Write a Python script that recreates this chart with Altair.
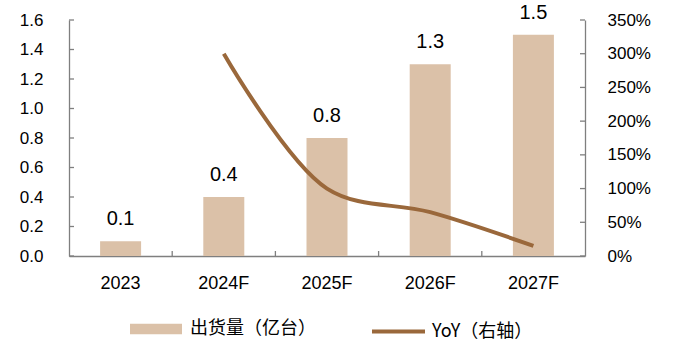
import altair as alt
import pandas as pd

years = ["2023", "2024F", "2025F", "2026F", "2027F"]
shipments = [0.1, 0.4, 0.8, 1.3, 1.5]
yoy_years = ["2024F", "2025F", "2026F", "2027F"]
yoy = [3.0, 1.0, 0.65, 0.15]
left_ticks = [0, 0.2, 0.4, 0.6, 0.8, 1.0, 1.2, 1.4, 1.6]
right_ticks = [0, 0.5, 1.0, 1.5, 2.0, 2.5, 3.0, 3.5]
x_boundaries = ["2024F", "2025F", "2026F", "2027F"]
bar_name = "出货量（亿台）"
line_name = "YoY（右轴）"

BAR_COLOR = "#DBC1A8"
LINE_COLOR = "#9A683B"
AXIS_COLOR = "#7f7f7f"
FONT = "Liberation Sans"
CJK = "Noto Sans CJK SC"
W, H = 516, 236

bar_df = pd.DataFrame({"year": years, "value": shipments, "s": bar_name})
line_df = pd.DataFrame({"year": yoy_years, "yoy": yoy, "s": line_name})
lt_df = pd.DataFrame({"v": left_ticks})
rt_df = pd.DataFrame({"v": right_ticks})
xb_df = pd.DataFrame({"year": x_boundaries})

xscale = alt.Scale(domain=years, paddingInner=0, paddingOuter=0)
lscale = alt.Scale(domain=[0, 1.6], nice=False)
rscale = alt.Scale(domain=[0, 3.5], nice=False)


def xaxis():
    return alt.Axis(labelAngle=0, labelPadding=18, bandPosition=0.5, title=None,
                    labelFontSize=18)


bars = alt.Chart(bar_df).mark_bar(size=41).encode(
    x=alt.X("year:N", scale=xscale, sort=years, title=None, axis=xaxis()),
    y=alt.Y("value:Q", scale=lscale, title=None,
            axis=alt.Axis(orient="left", values=left_ticks, format=".1f", labelPadding=26)),
    fill=alt.Fill("s:N", scale=alt.Scale(domain=[bar_name], range=[BAR_COLOR]),
                  legend=alt.Legend(title=None, orient="none", legendX=61, legendY=283,
                                    symbolType="M-1,-0.2H1V0.2H-1Z", symbolSize=2704,
                                    symbolStrokeWidth=0, labelFont=CJK, labelFontSize=18,
                                    labelColor="#000", labelOffset=8)),
)

labels = alt.Chart(bar_df).mark_text(baseline="alphabetic", dy=-16, fontSize=20,
                                      font=FONT, color="#000").encode(
    x=alt.X("year:N", scale=xscale, sort=years, title=None, axis=xaxis()),
    y=alt.Y("value:Q", scale=lscale, axis=None),
    text=alt.Text("value:Q", format=".1f"),
)

xticks = alt.Chart(xb_df).mark_rule(color=AXIS_COLOR, strokeWidth=1.3).encode(
    x=alt.X("year:N", scale=xscale, sort=years, bandPosition=0, title=None, axis=xaxis()),
    y=alt.value(H - 5), y2=alt.value(H),
)

lticks = alt.Chart(lt_df).mark_rule(color=AXIS_COLOR, strokeWidth=1.3).encode(
    y=alt.Y("v:Q", scale=lscale, axis=None),
    x=alt.value(0), x2=alt.value(5),
)

line = alt.Chart(line_df).mark_line(strokeWidth=4, interpolate="catmull-rom").encode(
    x=alt.X("year:N", scale=xscale, sort=years, title=None, axis=xaxis()),
    y=alt.Y("yoy:Q", scale=rscale, title=None,
            axis=alt.Axis(orient="right", values=right_ticks, format=".0%", labelPadding=22)),
    stroke=alt.Stroke("s:N", scale=alt.Scale(domain=[line_name], range=[LINE_COLOR]),
                      legend=alt.Legend(title=None, orient="none", legendX=301, legendY=283,
                                        symbolType="stroke", symbolSize=2809,
                                        symbolStrokeWidth=4, labelFont=CJK,
                                        labelFontSize=18, labelColor="#000", labelOffset=5)),
)

rticks = alt.Chart(rt_df).mark_rule(color=AXIS_COLOR, strokeWidth=1.3).encode(
    y=alt.Y("v:Q", scale=rscale, axis=None),
    x=alt.value(W - 5), x2=alt.value(W),
)

chart = alt.layer(bars, labels, xticks, lticks, line, rticks).resolve_scale(
    y="independent"
).properties(
    width=W, height=H,
    autosize=alt.AutoSizeParams(type="none"),
    padding={"left": 69, "top": 20, "right": 92, "bottom": 89},
    background="white",
).configure_view(stroke=None).configure_axis(
    ticks=False, grid=False, labelFontSize=17, labelFont=FONT, labelColor="#000",
    domainColor=AXIS_COLOR, domainWidth=1.3,
)

chart.save("out.html", embed_options={"renderer": "svg", "actions": False})
